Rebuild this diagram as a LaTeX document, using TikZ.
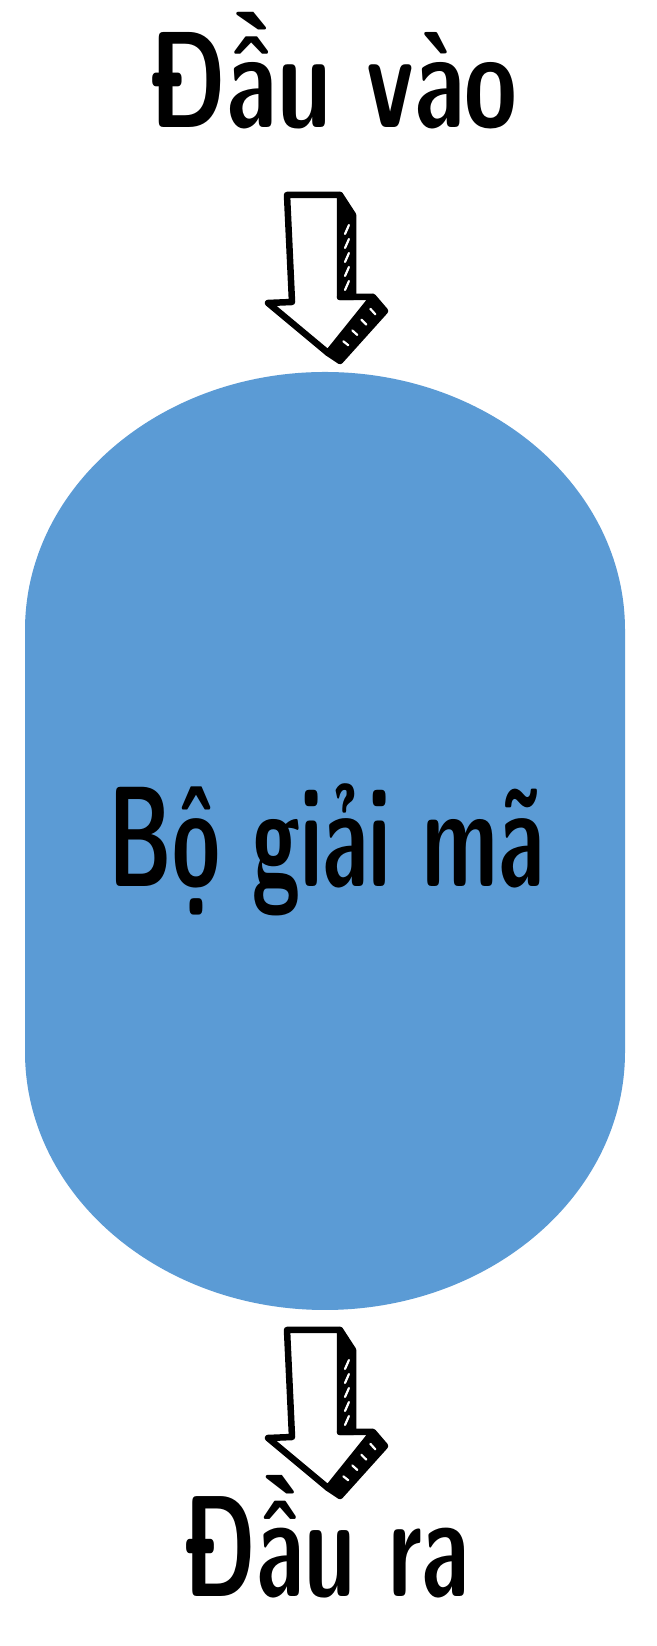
\documentclass[tikz,border=0pt]{standalone}
\usepackage{fontspec}
\usetikzlibrary{calc}
\definecolor{decblue}{RGB}{91,155,213}
\tikzset{
  x=1pt, y=1pt,
  outline/.style={draw=black, line width=6.5pt, line join=round, line cap=round},
  slash/.style={draw=white, line width=2.2pt, line cap=round},
  lbl/.style={inner sep=0pt, anchor=base, text=black, font=\sffamily\bfseries},
  sketcharrow/.pic={
    % hatched side of the shaft
    \fill[black] (53,0) -- (66,-20) -- (66,-102) -- (53,-102) -- cycle;
    \foreach \yy in {-34,-48,-62,-76,-90}
      \draw[slash] (58,\yy-5) -- (62,\yy+4);
    % hatched side of the head
    \fill[black] (86,-102) -- (98,-116) -- (53,-166) -- (41,-158) -- cycle;
    \foreach \t in {0.14,0.34,0.54,0.74}
      \draw[slash] ($(86,-102)!\t!(41,-158)!0.3!($(98,-116)!\t!(53,-166)$)$)
                -- ($(86,-102)!\t!(41,-158)!0.72!($(98,-116)!\t!(53,-166)$)$);
    % front outline
    \fill[white] (0,0) -- (53,0) -- (53,-102) -- (86,-102) -- (41,-158) -- (-19,-108) -- (5,-107) -- cycle;
    \draw[outline] (0,0) -- (53,0) -- (53,-102) -- (86,-102) -- (41,-158) -- (-19,-108) -- (5,-107) -- cycle;
    \draw[outline] (53,0) -- (66,-20) -- (66,-102) -- (53,-102);
    \draw[outline] (86,-102) -- (98,-116) -- (53,-166) -- (41,-158);
  }
}
\begin{document}
\begin{tikzpicture}
\useasboundingbox (0,0) rectangle (656,1646);
\fill[white] (0,0) rectangle (656,1646);
% decoder body
\fill[decblue] (25,594) -- (25,1016)
  arc[start angle=180, end angle=0, x radius=300, y radius=258]
  -- (625,594)
  arc[start angle=0, end angle=-180, x radius=300, y radius=258] -- cycle;
\node[lbl] (dectext) at (326.5,759) {\scalebox{0.61}[1]{\fontsize{143}{143}\selectfont\addfontfeature{FakeBold=1.5}Bộ giải mã}};
% input label and arrow
\node[lbl] (in) at (334,1518) {\scalebox{0.70}[1]{\fontsize{137}{137}\selectfont\addfontfeature{FakeBold=1.5}Đầu vào}};
\pic at (287,1451) {sketcharrow};
% output arrow and label
\pic at (287,316) {sketcharrow};
\node[lbl] (out) at (327,49) {\scalebox{0.63}[1]{\fontsize{144}{144}\selectfont\addfontfeature{FakeBold=1.5}Đầu ra}};
\end{tikzpicture}
\end{document}
